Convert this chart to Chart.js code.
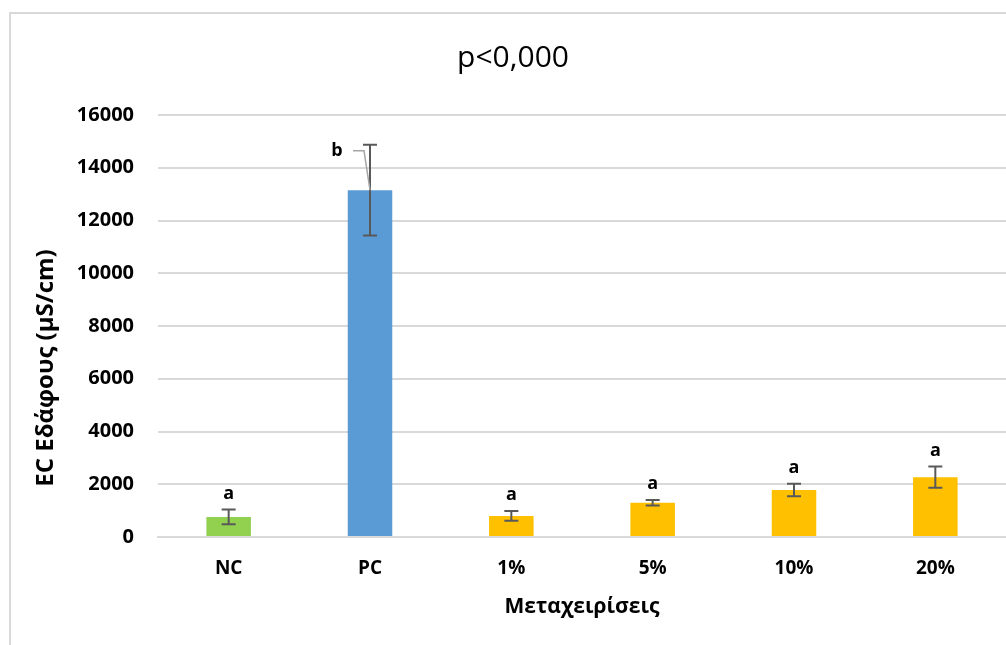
<!DOCTYPE html>
<html>
<head>
<meta charset="utf-8">
<script src="https://cdn.jsdelivr.net/npm/chart.js@4"></script>
<style>
  html, body { margin: 0; padding: 0; background: #fff; }
  #wrap { width: 1006px; height: 645px; }
</style>
</head>
<body>
<div id="wrap"><canvas id="chart" width="1006" height="645"></canvas></div>
<script>
const categories = ['NC', 'PC', '1%', '5%', '10%', '20%']
const ecValues = [760, 13150, 800, 1300, 1780, 2270]
const ecErrors = [280, 1720, 185, 105, 235, 400]
const letters = ['a', 'b', 'a', 'a', 'a', 'a']
const barColors = ['#92D050', '#5B9BD5', '#FFC000', '#FFC000', '#FFC000', '#FFC000']
const yTicks = [0, 2000, 4000, 6000, 8000, 10000, 12000, 14000, 16000]

const FONT = "'Open Sans', 'DejaVu Sans', sans-serif"

// frame, titles, error bars and letters
const decor = {
  id: 'decor',
  beforeDraw: (c) => {
    const x = c.ctx
    x.save()
    x.strokeStyle = '#D9D9D9'
    x.lineWidth = 2
    x.strokeRect(10, 13, 1200, 800)
    x.restore()
  },
  afterDatasetsDraw: (c) => {
    const x = c.ctx
    const ys = c.scales.y
    const meta = c.getDatasetMeta(0)
    const a = c.chartArea
    x.save()

    // error bars
    x.strokeStyle = '#595959'
    x.lineWidth = 2
    meta.data.forEach((bar, i) => {
      const hi = ys.getPixelForValue(ecValues[i] + ecErrors[i])
      const lo = ys.getPixelForValue(ecValues[i] - ecErrors[i])
      x.beginPath()
      x.moveTo(bar.x, hi); x.lineTo(bar.x, lo)
      x.moveTo(bar.x - 7, hi); x.lineTo(bar.x + 7, hi)
      x.moveTo(bar.x - 7, lo); x.lineTo(bar.x + 7, lo)
      x.stroke()
    })

    // significance letters
    x.fillStyle = '#000'
    x.font = `bold 18px ${FONT}`
    x.textAlign = 'center'
    x.textBaseline = 'middle'
    meta.data.forEach((bar, i) => {
      const hi = ys.getPixelForValue(ecValues[i] + ecErrors[i])
      if (letters[i] === 'b') {
        const lx = bar.x - 33
        const ly = hi + 6
        x.fillText(letters[i], lx, ly)
        x.strokeStyle = '#A6A6A6'
        x.lineWidth = 1.5
        x.beginPath()
        x.moveTo(lx + 16, ly)
        x.lineTo(bar.x - 6, ly)
        x.lineTo(bar.x, bar.y)
        x.stroke()
      } else {
        x.fillText(letters[i], bar.x, hi - 16)
      }
    })

    // chart title
    x.fillStyle = '#000'
    x.font = `30px ${FONT}`
    x.textBaseline = 'alphabetic'
    x.fillText('p<0,000', 513, 67)

    // x axis title
    x.font = `bold 21px ${FONT}`
    x.textBaseline = 'middle'
    x.fillText('Μεταχειρίσεις', (a.left + a.right) / 2, 607)

    // y axis title
    x.translate(46, (a.top + a.bottom) / 2 + 42)
    x.rotate(-Math.PI / 2)
    x.font = `bold 24px ${FONT}`
    x.fillText('EC Εδάφους (μS/cm)', 0, 0)
    x.restore()
  },
}

new Chart(document.getElementById('chart'), {
  type: 'bar',
  data: {
    labels: categories,
    datasets: [
      {
        data: ecValues,
        backgroundColor: barColors,
        borderWidth: 0,
        categoryPercentage: 1,
        barPercentage: 0.315,
      },
    ],
  },
  plugins: [decor],
  options: {
    responsive: false,
    animation: false,
    devicePixelRatio: 1,
    layout: { padding: { top: 115, right: 0, left: 0, bottom: 0 } },
    plugins: { legend: { display: false }, tooltip: { enabled: false } },
    scales: {
      x: {
        grid: { display: false, drawTicks: false },
        border: { color: '#D9D9D9', width: 2 },
        ticks: { color: '#000', font: { family: FONT, size: 19, weight: 'bold' }, padding: 20 },
        afterFit: (s) => { s.height = 108 },
      },
      y: {
        min: 0,
        max: 16000,
        afterBuildTicks: (s) => { s.ticks = yTicks.map((v) => ({ value: v })) },
        grid: { color: '#D9D9D9', lineWidth: 2, drawTicks: false },
        border: { display: false },
        ticks: {
          color: '#000',
          font: { family: FONT, size: 20, weight: 'bold' },
          padding: 24,
          callback: (v) => String(v),
        },
        afterFit: (s) => { s.width = 158 },
      },
    },
  },
})
</script>
</body>
</html>
